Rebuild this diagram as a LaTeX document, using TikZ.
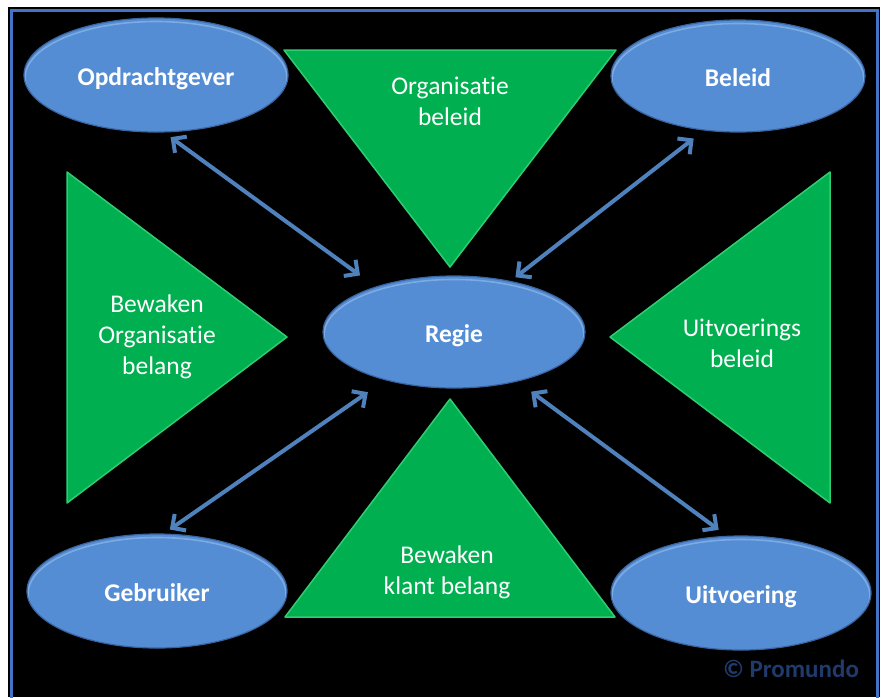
\documentclass[tikz,border=0pt]{standalone}
\usepackage{fontspec}
\setmainfont{Carlito}[Ligatures=NoCommon]
\usetikzlibrary{shapes.geometric, arrows.meta, calc}

\definecolor{ellblue}{RGB}{84,141,212}
\definecolor{ellrim}{RGB}{58,100,160}
\definecolor{ellhi}{RGB}{124,170,226}
\definecolor{arrblue}{RGB}{79,129,189}
\definecolor{trigreen}{RGB}{0,176,80}
\definecolor{tririm}{RGB}{48,204,112}
\definecolor{frameblue}{RGB}{68,114,196}
\definecolor{copyblue}{RGB}{32,58,108}

\tikzset{%
    ellsty/.style={
        ellipse,
        draw=ellrim,
        fill=ellblue,
        line width=1.2pt,
        inner sep=0pt,
        minimum width=264pt,
        minimum height=114pt,
        text height=20pt,
        text depth=0pt,
        text=white,
        font=\fontsize{25.5}{31}\selectfont\bfseries,
        path picture={
            \draw[ellhi,line width=1.6pt]
                let \p1=(path picture bounding box.north east),
                    \p2=(path picture bounding box.center) in
                ([yshift=-3pt]\p2) ellipse [x radius=\x1-\x2-1pt, y radius=\y1-\y2-0.5pt];
        },
    },
    tristy/.style={
        fill=trigreen,
        draw=tririm,
        line width=1.5pt,
        line join=round,
    },
    txtsty/.style={
        align=center,
        inner sep=0pt,
        text=white,
        font=\fontsize{25.5}{31}\selectfont,
    },
    arrsty/.style={
        draw=arrblue,
        line width=4pt,
        >={Straight Barb[length=10pt,width=20pt]},
        <->,
    },
}

\begin{document}
\begin{tikzpicture}[x=1pt,y=-1pt]

% page, black panel and frame
\useasboundingbox (0,0) rectangle (883,697);
\fill[white] (0,0) rectangle (883,697);
\fill[black] (8,7) rectangle (880,697);
\draw[frameblue,line width=3pt] (11.5,705) -- (11.5,10.5) -- (877.5,10.5) -- (877.5,705);

% green triangles
\path[tristy] (284,50) -- (616,50) -- (450,267) -- cycle;
\path[tristy] (67,172) -- (287,337) -- (67,503) -- cycle;
\path[tristy] (830,172) -- (610,337) -- (830,503) -- cycle;
\path[tristy] (450,399) -- (615,617) -- (285,617) -- cycle;

\node (orgbel) [txtsty] at (450,101) {Organisatie\\beleid};
\node (beworg) [txtsty] at (157,337) {Bewaken\\Organisatie\\belang};
\node (uitbel) [txtsty] at (742,343) {Uitvoerings\\beleid};
\node (bewkl) [txtsty] at (447,572) {Bewaken\\klant belang};

% parties
\node (opdr) [ellsty] at (156,75) {Opdrachtgever};
\node (bel) [ellsty,minimum width=254pt,minimum height=112pt] at (738,76) {Beleid};
\node (regie) [ellsty,minimum width=262pt,minimum height=112pt] at (454,332) {Regie};
\node (gebr) [ellsty,minimum width=260pt] at (157,591) {Gebruiker};
\node (uitv) [ellsty,minimum width=260pt] at (741,593) {Uitvoering};

% links to regie
\draw[arrsty,shorten <=8pt,shorten >=19pt] (opdr.-82) -- (regie.150);
\draw[arrsty,shorten <=13pt,shorten >=6pt] (bel.-122) -- (regie.42);
\draw[arrsty,shorten <=21pt,shorten >=7pt] (regie.215) -- (gebr.83);
\draw[arrsty,shorten <=17pt,shorten >=10pt] (regie.-38) -- (uitv.104);

\node (copy) [text=copyblue,font=\fontsize{25}{30}\selectfont\bfseries] at (791,669) {© Promundo};

\end{tikzpicture}
\end{document}
